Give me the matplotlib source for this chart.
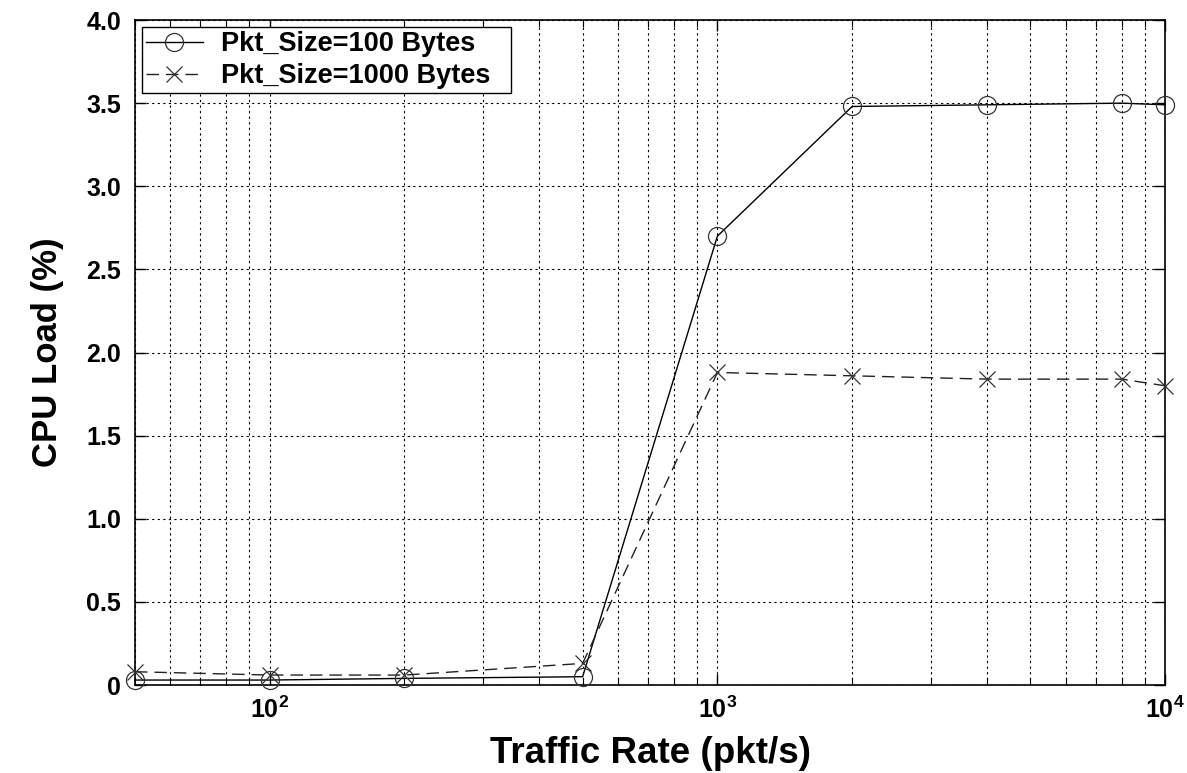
import matplotlib
matplotlib.use("Agg")
import matplotlib.pyplot as plt
from matplotlib.ticker import LogLocator, NullFormatter

plt.rcParams['font.family'] = ['Liberation Sans', 'DejaVu Sans']
plt.rcParams['mathtext.fontset'] = 'custom'
plt.rcParams['mathtext.rm'] = 'Liberation Sans:bold'
plt.rcParams['mathtext.it'] = 'Liberation Sans:bold'
plt.rcParams['mathtext.bf'] = 'Liberation Sans:bold'

rates = [50, 100, 200, 500, 1000, 2000, 4000, 8000, 10000]
load_100 = [0.03, 0.03, 0.04, 0.05, 2.70, 3.48, 3.49, 3.50, 3.49]
load_1000 = [0.08, 0.06, 0.06, 0.13, 1.88, 1.86, 1.84, 1.84, 1.80]
label_100 = "Pkt_Size=100 Bytes"
label_1000 = "Pkt_Size=1000 Bytes"
y_ticks = [0, 0.5, 1.0, 1.5, 2.0, 2.5, 3.0, 3.5, 4.0]
y_tick_labels = ["0", "0.5", "1.0", "1.5", "2.0", "2.5", "3.0", "3.5", "4.0"]

fig = plt.figure(figsize=(11.87, 7.73), dpi=100)
ax = fig.add_axes([0.1137, 0.1138, 0.8678, 0.8603])

ax.plot(rates, load_100, color='black', linewidth=1.0, linestyle='-',
        marker='o', markersize=13, markerfacecolor='none', markeredgecolor='#333333',
        markeredgewidth=0.9, label=label_100, clip_on=False, zorder=3)
ax.plot(rates, load_1000, color='#222222', linewidth=1.0, linestyle=(0, (9, 5)),
        marker='x', markersize=12, markeredgecolor='#333333', markeredgewidth=0.9,
        label=label_1000, clip_on=False, zorder=3)

ax.set_xscale('log')
ax.set_xlim(50, 10000)
ax.set_ylim(0, 4.0)
ax.set_yticks(y_ticks)
ax.set_yticklabels(y_tick_labels)

ax.xaxis.set_major_locator(LogLocator(base=10, numticks=10))
ax.xaxis.set_minor_locator(LogLocator(base=10, subs=range(2, 10), numticks=20))
ax.xaxis.set_minor_formatter(NullFormatter())

ax.grid(True, which='major', axis='both', color='black', linestyle=(0, (2, 3)), linewidth=0.8)
ax.grid(True, which='minor', axis='x', color='black', linestyle=(0, (2, 3)), linewidth=0.8)

ax.tick_params(which='both', direction='in', top=True, right=True)
ax.tick_params(which='major', length=8, width=1, labelsize=18)
ax.tick_params(axis='y', which='major', pad=10)
ax.tick_params(axis='x', which='major', pad=8)
ax.tick_params(which='minor', length=5, width=0.8)
for lbl in ax.get_xticklabels() + ax.get_yticklabels():
    lbl.set_fontweight('bold')
for s in ax.spines.values():
    s.set_linewidth(1.2)

ax.set_xlabel("Traffic Rate (pkt/s)", fontsize=26.5, fontweight='bold', va='top')
ax.xaxis.set_label_coords(0.5, -0.077)
ax.set_ylabel("CPU Load (%)", fontsize=25, fontweight='bold', labelpad=16)

leg = ax.legend(loc='upper left', bbox_to_anchor=(0.0068, 0.5, 0.358, 0.4895),
                mode='expand', prop={'weight': 'bold', 'size': 19.5},
                frameon=True, fancybox=False, edgecolor='black', framealpha=1,
                borderpad=0.15, handlelength=2.1, handletextpad=0.65,
                labelspacing=0.23, borderaxespad=0.0)
leg.get_frame().set_linewidth(1.0)

fig.savefig("out.png", dpi=100)
